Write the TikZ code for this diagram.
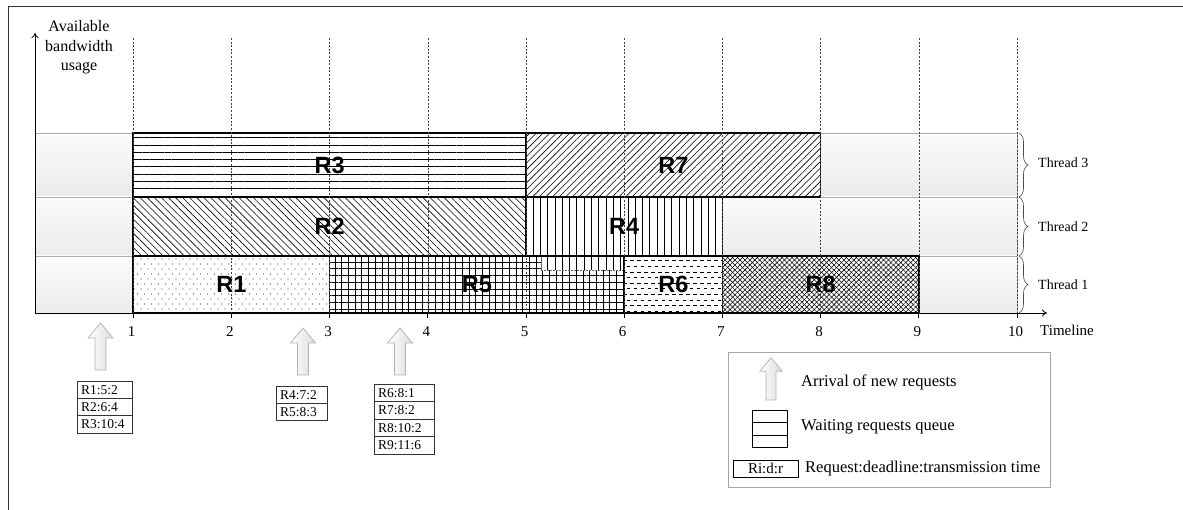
\documentclass[tikz,border=0pt]{standalone}
\usepackage{fontspec}
\setmainfont{Liberation Serif}
\newfontfamily\lsans{Liberation Sans}
\usetikzlibrary{patterns.meta,decorations.pathreplacing,arrows.meta}

\pgfdeclarepatternformonly{sdots}{\pgfpoint{-1pt}{-1pt}}{\pgfpoint{8pt}{11pt}}{\pgfpoint{7pt}{10pt}}{%
  \pgfpathcircle{\pgfpoint{1pt}{1pt}}{0.7pt}\pgfpathcircle{\pgfpoint{4.5pt}{6pt}}{0.7pt}\pgfusepath{fill}}
\pgfdeclarepatternformonly{hdash}{\pgfpoint{-1pt}{-1pt}}{\pgfpoint{8pt}{12pt}}{\pgfpoint{7pt}{11.2pt}}{%
  \pgfsetlinewidth{0.7pt}%
  \pgfpathmoveto{\pgfpoint{0pt}{2.8pt}}\pgfpathlineto{\pgfpoint{3.6pt}{2.8pt}}%
  \pgfpathmoveto{\pgfpoint{3.5pt}{8.4pt}}\pgfpathlineto{\pgfpoint{6.9pt}{8.4pt}}\pgfusepath{stroke}}

\tikzset{
  rowbg/.style={draw=gray!65, line width=0.6pt, top color=gray!3, bottom color=gray!16,
    minimum width=982pt, minimum height=#1, inner sep=0pt, outer sep=0pt, anchor=north west},
  reqbox/.style={draw=black, line width=1.5pt, preaction={fill=white}, inner sep=0pt,
    outer sep=0pt, anchor=north west},
  rlabel/.style={font=\lsans\bfseries\fontsize{23.5}{27}\selectfont, inner sep=0pt},
  gridline/.style={black!75, line width=0.5pt, dash pattern=on 2pt off 1.6pt},
  axis/.style={black, line width=0.8pt, -{To[length=5pt,width=7pt]}},
  ticklabel/.style={font=\fontsize{15}{17}\selectfont, inner sep=0pt},
  threadlabel/.style={font=\fontsize{14}{16}\selectfont, anchor=west, inner sep=0pt},
  bracestyle/.style={draw=black!70, line width=0.6pt, decorate, decoration={brace, amplitude=9pt}},
  cell/.style={draw=black!80, line width=0.6pt, inner xsep=4pt, inner ysep=0pt, outer sep=0pt,
    minimum height=17.3pt, anchor=north west, align=left, font=\fontsize{13.5}{15}\selectfont},
  lgtext/.style={anchor=west, inner sep=0pt, font=\fontsize{16.5}{19}\selectfont},
  qcell/.style={draw=black, line width=0.6pt, minimum width=35pt, minimum height=12.4pt,
    inner sep=0pt, outer sep=0pt, anchor=north west},
  uparr/.pic={\path[draw=gray!60, line width=0.7pt, left color=white, right color=gray!28]
    (-5.5,0) -- (-5.5,32) -- (-12.5,32) -- (0,47) -- (12.5,32) -- (5.5,32) -- (5.5,0) -- cycle;}
}

\begin{document}
\begin{tikzpicture}[x=1pt,y=1pt]
\useasboundingbox (0,0) rectangle (1183,-510);

% outer frame
\draw[black!80, line width=0.8pt] (8,-510) -- (8,-6) -- (1183,-6);

% thread rows
\node[rowbg=64pt] (row3) at (35,-133) {};
\node[rowbg=59pt] (row2) at (35,-197) {};
\node[rowbg=57pt] (row1) at (35,-256) {};

% request boxes
\node[reqbox, minimum width=392.8pt, minimum height=64pt,
  pattern={Lines[angle=0,distance=7.3pt,line width=0.8pt]}] (R3) at (133.2,-133) {};
\node[reqbox, minimum width=294.6pt, minimum height=64pt,
  pattern={Lines[angle=45,distance=4.7pt,line width=0.6pt]}] (R7) at (526,-133) {};
\node[reqbox, minimum width=392.8pt, minimum height=59pt,
  pattern={Lines[angle=-45,distance=5pt,line width=0.6pt]}] (R2) at (133.2,-197) {};
\node[reqbox, minimum width=196.4pt, minimum height=59pt,
  pattern={Lines[angle=90,distance=7.3pt,line width=0.6pt]}] (R4) at (526,-197) {};
\node[reqbox, minimum width=196.4pt, minimum height=57pt,
  pattern=sdots, pattern color=black!70] (R1) at (133.2,-256) {};
\node[reqbox, minimum width=294.6pt, minimum height=57pt,
  pattern={Lines[angle=0,distance=6.7pt,line width=0.7pt]},
  postaction={pattern={Lines[angle=90,distance=6.7pt,line width=0.7pt]}}] (R5) at (329.6,-256) {};
\node[reqbox, minimum width=98.2pt, minimum height=57pt,
  pattern=hdash] (R6) at (624.2,-256) {};
\node[reqbox, minimum width=196.4pt, minimum height=57pt,
  pattern={Lines[angle=45,distance=3.5pt,line width=0.55pt]},
  postaction={pattern={Lines[angle=-45,distance=3.5pt,line width=0.55pt]}}] (R8) at (722.4,-256) {};

% overlap of R4 into thread 1
\path[fill=white, postaction={pattern={Lines[angle=90,distance=7.3pt,line width=0.6pt]}}]
  (541,-257) rectangle (623,-270);
\draw[black!60, line width=0.5pt, dash pattern=on 2pt off 1pt] (541,-270) -- (623,-270);
\draw[black!60, line width=0.5pt] (541,-257) -- (541,-270);

% dashed grid lines
\foreach \t in {1,...,10} {
  \draw[gridline] ({35+98.2*\t},-38) -- ({35+98.2*\t},-313);
}

% request labels
\node[rlabel] (lR3) at (R3.center) {R3};
\node[rlabel] (lR7) at (R7.center) {R7};
\node[rlabel] (lR2) at (R2.center) {R2};
\node[rlabel] (lR4) at (R4.center) {R4};
\node[rlabel] (lR1) at (R1.center) {R1};
\node[rlabel] (lR5) at (R5.center) {R5};
\node[rlabel] (lR6) at (R6.center) {R6};
\node[rlabel] (lR8) at (R8.center) {R8};

% axes
\coordinate (origin) at (35,-313);
\coordinate (ytip) at (35,-33);
\coordinate (xtip) at (1047,-313);
\draw[axis] (origin) -- (ytip);
\draw[axis] (origin) -- (xtip);
\node[align=center, inner sep=0pt, font=\fontsize{16}{19.5}\selectfont] (ylab) at (79,-47.5)
  {Available\\bandwidth\\usage};

% ticks and labels
\foreach \t in {1,...,10} {
  \draw[black, line width=0.7pt] ({35+98.2*\t},-313) -- ({35+98.2*\t},-318);
  \node[ticklabel] (tl\t) at ({33.5+98.2*\t},-331.5) {\t};
}
\node[ticklabel, anchor=west] (timeline) at (1040,-330.5) {Timeline};

% braces
\draw[bracestyle] ([xshift=2pt]row3.north east) -- ([xshift=2pt]row3.south east);
\draw[bracestyle] ([xshift=2pt]row2.north east) -- ([xshift=2pt]row2.south east);
\draw[bracestyle] ([xshift=2pt]row1.north east) -- ([xshift=2pt]row1.south east);
\node[threadlabel] (th3) at (1038,-163) {Thread 3};
\node[threadlabel] (th2) at (1038,-226.7) {Thread 2};
\node[threadlabel] (th1) at (1038,-285) {Thread 1};

% arrival arrows
\pic at (100.5,-370) {uparr};
\pic at (303,-375) {uparr};
\pic at (400,-375) {uparr};

% request tables
\node[cell, text width=47pt] (a1) at (77,-381) {R1:5:2};
\node[cell, text width=47pt] (a2) at (a1.south west) {R2:6:4};
\node[cell, text width=47pt] (a3) at (a2.south west) {R3:10:4};

\node[cell, text width=43pt] (b1) at (276,-386) {R4:7:2};
\node[cell, text width=43pt] (b2) at (b1.south west) {R5:8:3};

\node[cell, text width=52pt, minimum height=17.5pt] (c1) at (374,-384) {R6:8:1};
\node[cell, text width=52pt, minimum height=17.5pt] (c2) at (c1.south west) {R7:8:2};
\node[cell, text width=52pt, minimum height=17.5pt] (c3) at (c2.south west) {R8:10:2};
\node[cell, text width=52pt, minimum height=17.5pt] (c4) at (c3.south west) {R9:11:6};

% legend
\node[draw=gray!70, line width=0.7pt, minimum width=322pt, minimum height=135pt,
  inner sep=0pt, outer sep=0pt, anchor=north west] (legend) at (728,-352) {};
\pic[scale=0.9] at (771,-400) {uparr};
\node[lgtext] (lg1) at (801,-382) {Arrival of new requests};
\node[qcell] (q1) at (752,-410) {};
\node[qcell] (q2) at (q1.south west) {};
\node[qcell] (q3) at (q2.south west) {};
\node[lgtext] (lg2) at (801,-427) {Waiting requests queue};
\node[draw=black, line width=0.6pt, minimum width=65pt, minimum height=17pt, inner sep=0pt,
  outer sep=0pt, anchor=north west, font=\fontsize{15}{17}\selectfont] (rid) at (733,-460) {Ri:d:r};
\node[lgtext] (lg3) at (805,-469) {Request:deadline:transmission time};
\end{tikzpicture}
\end{document}
